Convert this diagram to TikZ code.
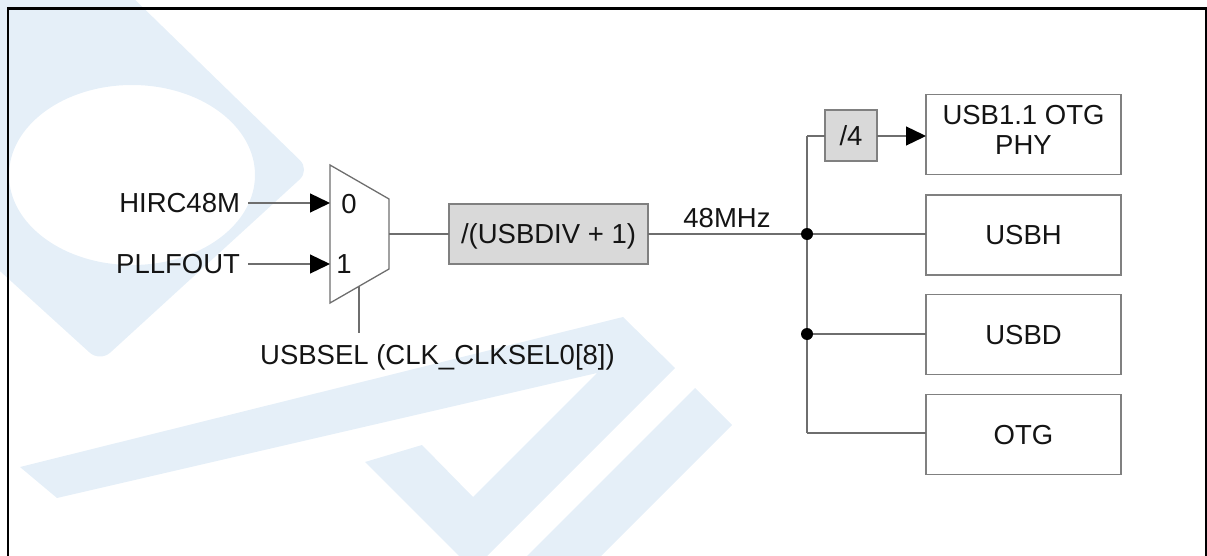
\documentclass[tikz,border=0pt]{standalone}
\usepackage{fontspec}
\setmainfont{Liberation Sans}
\usetikzlibrary{arrows.meta}
\definecolor{wm}{RGB}{229,239,248}
\definecolor{ln}{RGB}{110,110,110}
\definecolor{bx}{RGB}{128,128,128}
\definecolor{gfill}{RGB}{217,217,217}
\definecolor{tx}{RGB}{20,20,20}
\begin{document}
\begin{tikzpicture}[x=1pt,y=-1pt,
  font=\fontsize{27.5}{30}\selectfont, text=tx,
  txt/.style={inner sep=0pt, outer sep=0pt, text height=19.7pt, text depth=0pt},
  blk/.style={draw=bx, line width=1.5pt, fill=white, inner sep=0pt, outer sep=0pt,
    minimum width=195pt, minimum height=80pt, text height=19.7pt, text depth=0pt},
  gbox/.style={blk, fill=gfill},
  wire/.style={draw=ln, line width=1.3pt},
  arr/.style={wire, -{Triangle[length=20pt,width=19pt,color=black]}},
  dot/.style={circle, fill=black, inner sep=0pt, minimum size=12pt}
]
\useasboundingbox (0,0) rectangle (1207,556);
% watermark
\begin{scope}
\clip (0,0) rectangle (1207,556);
\fill[wm, even odd rule, rounded corners=14pt]
  (-10,-10) -- (125,-10) -- (310,170) -- (100,362) -- (-10,262) -- cycle
  (132,175) ellipse [x radius=123, y radius=90];
\fill[wm] (20,467) -- (623,317) -- (675,368) -- (487,556) -- (459,556) -- (365,462)
  -- (422,445) -- (473,497) -- (597,373) -- (57,498) -- cycle;
\fill[wm] (695,388) -- (732,425) -- (601,556) -- (527,556) -- cycle;
\end{scope}
% frame
\draw[line width=2.6pt] (8,560) -- (8,8.5) -- (1206,8.5) -- (1206,560);
% inputs
\node[txt, anchor=east, inner xsep=8pt] (hirc) at (248,203) {HIRC48M};
\node[txt, anchor=east, inner xsep=8pt] (pll) at (248,264) {PLLFOUT};
% mux
\coordinate (mtl) at (330,165);
\coordinate (mbl) at (330,303);
\coordinate (mtr) at (389,199);
\coordinate (mbr) at (389,269);
\draw[wire] (mtl) -- (mtr) -- (mbr) -- (mbl) -- cycle;
\coordinate (m0) at (330,203);
\coordinate (m1) at (330,264);
\coordinate (mout) at (389,234);
\coordinate (msel) at (359,286);
\node[txt] (l0) at (349,204) {0};
\node[txt] (l1) at (344,264) {1};
\node[txt, inner ysep=12pt] (sel) at (437.5,355) {USBSEL (CLK\_CLKSEL0[8])};
% divider
\node[gbox, minimum width=199pt, minimum height=60pt] (div) at (548.5,234) {/(USBDIV + 1)};
\node[txt] (mhz) at (727,218) {48MHz};
\node[gbox, minimum width=52pt, minimum height=51pt] (q4) at (851,135.5) {/4};
% targets
\node[blk] (phy) at (1023.5,134.5) {};
\node[align=center, inner sep=0pt, anchor=north] (phytxt) at (1023.5,105) {USB1.1 OTG\\PHY};
\node[blk] (usbh) at (1023.5,235) {USBH};
\node[blk] (usbd) at (1023.5,334.5) {USBD};
\node[blk] (otg) at (1023.5,434.5) {OTG};
% bus
\coordinate (j1) at (807,234);
\coordinate (j2) at (807,334);
\coordinate (tc) at (807,136);
\coordinate (bc) at (807,433);
% wires
\draw[arr] (hirc.east) -- (m0);
\draw[arr] (pll.east) -- (m1);
\draw[wire] (msel) -- (sel.north -| msel);
\draw[wire] (mout) -- (div.west);
\draw[wire] (div.east) -- (j1);
\draw[wire] (tc) -- (bc);
\draw[wire] (tc) -- (q4.west |- tc);
\draw[arr] (q4.east |- tc) -- (phy.west |- tc);
\draw[wire] (j1) -- (usbh.west |- j1);
\draw[wire] (j2) -- (usbd.west |- j2);
\draw[wire] (bc) -- (otg.west |- bc);
\node[dot] (d1) at (j1) {};
\node[dot] (d2) at (j2) {};
\end{tikzpicture}
\end{document}
